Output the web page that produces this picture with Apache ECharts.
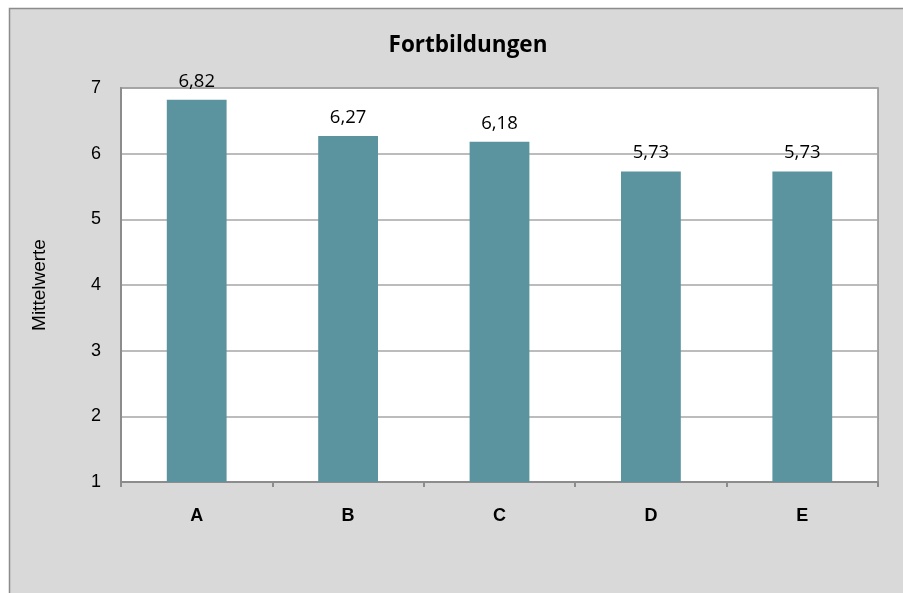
<!DOCTYPE html>
<html>
<head>
<meta charset="utf-8">
<script src="https://cdn.jsdelivr.net/npm/echarts@6/dist/echarts.min.js"></script>
<style>
html, body { margin: 0; padding: 0; background: #fff; }
#main { width: 903px; height: 593px; }
</style>
</head>
<body>
<div id="main"></div>
<script type="text/javascript">
// Kategorien und Mittelwerte
var categories = ['A', 'B', 'C', 'D', 'E'];
var values = [6.82, 6.27, 6.18, 5.73, 5.73];
var yTicks = [1, 2, 3, 4, 5, 6, 7];

var chart = echarts.init(document.getElementById('main'));

chart.setOption({
	animation: false,
	backgroundColor: '#ffffff',
	graphic: [{
		type: 'rect',
		z: -10,
		shape: { x: 9.5, y: 8.5, width: 930, height: 620 },
		style: { fill: '#d9d9d9', stroke: '#8c8c8c', lineWidth: 1.5 }
	}],
	title: {
		text: 'Fortbildungen',
		left: 463,
		top: 29,
		textAlign: 'center',
		textStyle: { fontFamily: 'Open Sans', fontWeight: 'bold', fontSize: 22.5, color: '#000' }
	},
	grid: {
		left: 121, top: 88, right: 25, bottom: 111,
		show: true,
		backgroundColor: '#ffffff',
		borderColor: '#8c8c8c',
		borderWidth: 1.5
	},
	xAxis: {
		type: 'category',
		data: categories,
		axisLine: { lineStyle: { color: '#8c8c8c', width: 2 } },
		axisTick: { show: true, length: 5, lineStyle: { color: '#8c8c8c', width: 2 } },
		axisLabel: { margin: 25, fontFamily: 'Liberation Sans', fontWeight: 'bold', fontSize: 18, color: '#000' }
	},
	yAxis: {
		type: 'value',
		min: yTicks[0],
		max: yTicks[yTicks.length - 1],
		interval: 1,
		name: 'Mittelwerte',
		nameLocation: 'middle',
		nameRotate: 90,
		nameGap: 72,
		nameTextStyle: { fontFamily: 'Liberation Sans', fontSize: 19, color: '#000' },
		axisLine: { show: true, lineStyle: { color: '#8c8c8c', width: 2 } },
		axisTick: { show: false },
		axisLabel: { margin: 20, fontFamily: 'Liberation Sans', fontSize: 18, color: '#000' },
		splitLine: { lineStyle: { color: '#a6a6a6', width: 1.5 } }
	},
	series: [{
		type: 'bar',
		data: values,
		barWidth: '39.5%',
		itemStyle: { color: '#5b949f' },
		label: {
			show: true,
			position: 'top',
			distance: 9,
			fontFamily: 'Open Sans',
			fontSize: 18.5,
			color: '#000',
			formatter: function(p) { return p.value.toFixed(2).replace('.', ','); }
		}
	}]
});
</script>
</body>
</html>
